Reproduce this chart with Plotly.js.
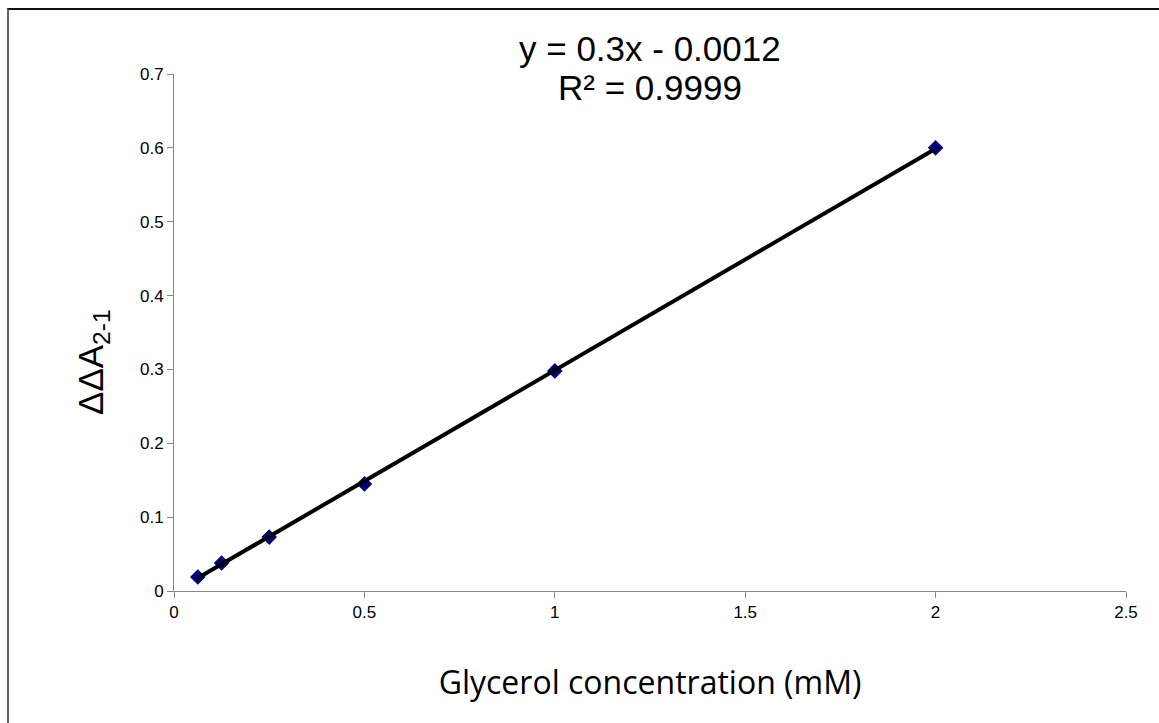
<!DOCTYPE html>
<html>
<head>
<meta charset="utf-8">
<script src="https://cdn.plot.ly/plotly-3.0.1.min.js"></script>
<style>
html,body{margin:0;padding:0;background:#fff;}
#chart{width:1159px;height:723px;}
#frame{position:absolute;left:7px;top:8px;width:1200px;height:800px;border-top:2px solid #111;border-left:2px solid #666;pointer-events:none;}
</style>
</head>
<body>
<div id="chart"></div>
<div id="frame"></div>
<script>
const concentration = [0.0625, 0.125, 0.25, 0.5, 1, 2];
const deltaA = [0.019, 0.038, 0.073, 0.145, 0.298, 0.600];
const slope = 0.3;
const intercept = -0.0012;
const rSquared = 0.9999;
const xTicks = [0, 0.5, 1, 1.5, 2, 2.5];
const xTickLabels = ['0', '0.5', '1', '1.5', '2', '2.5'];
const yTicks = [0, 0.1, 0.2, 0.3, 0.4, 0.5, 0.6, 0.7];
const yTickLabels = ['0', '0.1', '0.2', '0.3', '0.4', '0.5', '0.6', '0.7'];
const xTitle = 'Glycerol concentration (mM)';
const yTitle = 'ΔΔA<sub>2-1</sub>';

const trendX = [concentration[0], concentration[concentration.length - 1]];
const trendY = trendX.map(x => slope * x + intercept);

const data = [
  {
    x: concentration, y: deltaA, type: 'scatter', mode: 'markers',
    marker: {symbol: 'diamond', size: 12, color: '#000080'},
    hoverinfo: 'x+y'
  },
  {
    x: trendX, y: trendY, type: 'scatter', mode: 'lines',
    line: {color: '#000000', width: 4},
    hoverinfo: 'skip'
  }
];

const eqFont = {size: 35, family: 'Liberation Sans, Arial, sans-serif', color: '#000'};

const layout = {
  width: 1159, height: 723,
  margin: {l: 174, r: 33, t: 74, b: 132},
  paper_bgcolor: '#ffffff', plot_bgcolor: '#ffffff',
  showlegend: false,
  font: {family: 'Liberation Sans, Arial, sans-serif', color: '#000'},
  xaxis: {
    range: [0, 2.5], tickvals: xTicks, ticktext: xTickLabels,
    showgrid: false, zeroline: false, showline: true, linecolor: '#868686', linewidth: 1,
    ticks: 'outside', ticklen: 6, tickcolor: '#868686',
    tickfont: {size: 17, family: 'Liberation Sans, Arial, sans-serif'},
    title: {text: xTitle, standoff: 50,
      font: {size: 32, family: 'Open Sans, Liberation Sans, sans-serif'}}
  },
  yaxis: {
    range: [0, 0.7], tickvals: yTicks, ticktext: yTickLabels,
    showgrid: false, zeroline: false, showline: true, linecolor: '#868686', linewidth: 1,
    ticks: 'outside', ticklen: 6, tickcolor: '#868686',
    tickfont: {size: 17, family: 'Liberation Sans, Arial, sans-serif'}
  },
  annotations: [
    {
      xref: 'paper', yref: 'paper', x: 0.5, y: 1 + 25 / 517, xanchor: 'center', yanchor: 'middle',
      showarrow: false,
      text: 'y = ' + slope + 'x - ' + Math.abs(intercept).toFixed(4),
      font: eqFont
    },
    {
      xref: 'paper', yref: 'paper', x: 0.5, y: 1 - 13 / 517, xanchor: 'center', yanchor: 'middle',
      showarrow: false,
      text: 'R² = ' + rSquared.toFixed(4),
      font: eqFont
    },
    {
      xref: 'paper', yref: 'paper', x: 0, xshift: -81, y: (591 - 362) / 517,
      xanchor: 'center', yanchor: 'middle', textangle: -90,
      showarrow: false, text: yTitle,
      font: {size: 35, family: 'Liberation Sans, Arial, sans-serif', color: '#000'}
    }
  ]
};

Plotly.newPlot('chart', data, layout, {displayModeBar: false});
</script>
</body>
</html>
